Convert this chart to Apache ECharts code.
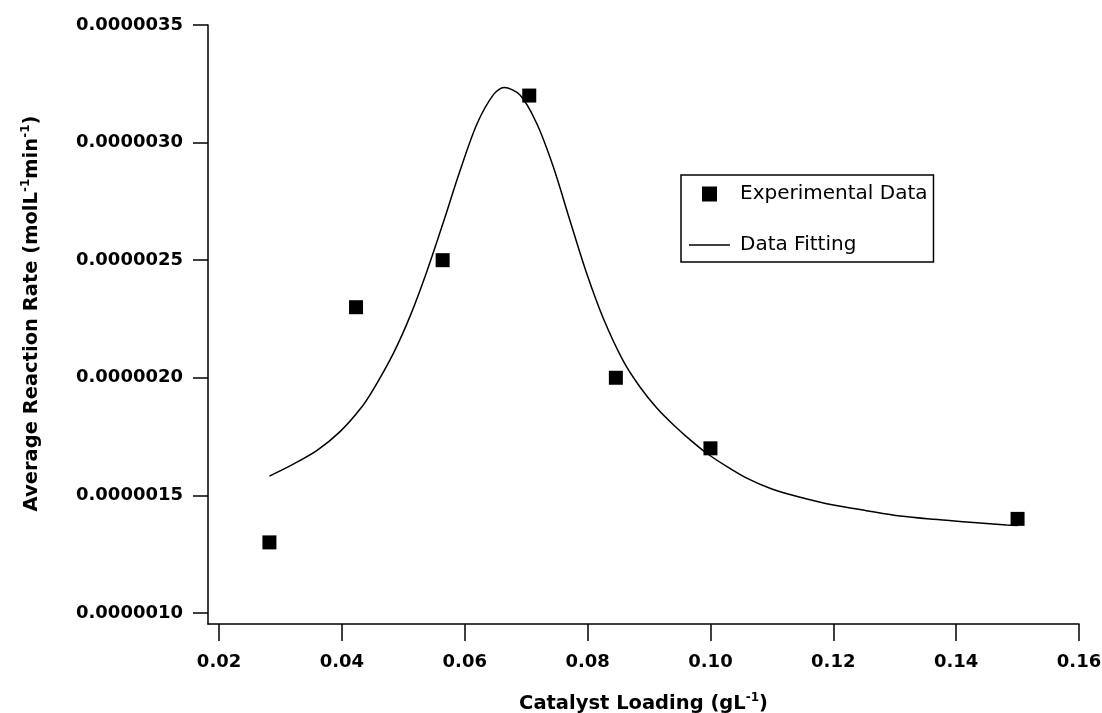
<!DOCTYPE html>
<html>
<head>
<meta charset="utf-8">
<script src="https://cdn.jsdelivr.net/npm/echarts@6/dist/echarts.min.js"></script>
<style>
html,body{margin:0;padding:0;background:#fff;}
#chartContainer{width:1102px;height:713px;}
</style>
</head>
<body>
<div id="chartContainer"></div>
<script>
// measured points (catalyst loading g/L, rate mol/L/min)
var expLoading=[0.0282,0.0423,0.0564,0.0705,0.0846,0.1,0.15];
var expRate=[1.3e-6,2.3e-6,2.5e-6,3.2e-6,2.0e-6,1.7e-6,1.4e-6];

// fitted curve
var fitLoading=[0.0282,0.0321,0.0359,0.0397,0.0430,0.0451,0.0484,0.0511,0.0538,0.0565,
	0.0592,0.0620,0.0647,0.0664,0.0690,0.0717,0.0744,0.0771,0.0799,0.0826,
	0.0858,0.0885,0.0913,0.0940,0.0967,0.0994,0.1027,0.1059,0.1100,0.1146,
	0.1200,0.1254,0.1309,0.1363,0.1417,0.1482,0.1500];
var fitRate=[1.582e-6,1.633e-6,1.690e-6,1.771e-6,1.868e-6,1.950e-6,2.105e-6,2.262e-6,2.450e-6,2.660e-6,
	2.878e-6,3.080e-6,3.205e-6,3.234e-6,3.202e-6,3.082e-6,2.898e-6,2.671e-6,2.440e-6,2.250e-6,
	2.072e-6,1.962e-6,1.870e-6,1.799e-6,1.736e-6,1.679e-6,1.622e-6,1.573e-6,1.527e-6,1.492e-6,
	1.459e-6,1.435e-6,1.412e-6,1.398e-6,1.387e-6,1.374e-6,1.372e-6];

// tick labels
var xTicks=[0.02,0.04,0.06,0.08,0.10,0.12,0.14,0.16];
var yTicks=[1.0e-6,1.5e-6,2.0e-6,2.5e-6,3.0e-6,3.5e-6];

function zip(a,b){
	var out=[];
	for(var i=0;i<a.length;i++){out.push([a[i],b[i]]);}
	return out;
}

var dom=document.getElementById("chartContainer");
var myChart=echarts.init(dom,null,{renderer:'canvas'});
var tickFont={fontFamily:'DejaVu Sans',fontWeight:'bold',fontSize:18,color:'#000'};
var titleRich={
	t:{fontFamily:'DejaVu Sans',fontWeight:'bold',fontSize:19.5,color:'#000',lineHeight:24},
	sup:{fontFamily:'DejaVu Sans',fontWeight:'bold',fontSize:12,color:'#000',verticalAlign:'top',lineHeight:24,padding:[0,0,10,0]}
};

var option={
	animation:false,
	backgroundColor:'#fff',
	grid:{left:208,right:23,top:25,bottom:89,containLabel:false,outerBoundsMode:'none'},
	legend:{
		orient:'vertical',
		left:681,top:175,
		padding:[9,6,7,8],
		borderColor:'#000',borderWidth:1.5,
		itemWidth:41,itemHeight:15,itemGap:31,
		symbolKeepAspect:true,
		textStyle:{fontFamily:'DejaVu Sans',fontSize:20,color:'#000',padding:[0,0,0,5]},
		data:[
			{name:'Experimental Data',icon:'path://M0,0H10V10H0Z'},
			{name:'Data Fitting',icon:'path://M0,0H41V1.5H0Z'}
		]
	},
	xAxis:{
		type:'value',
		min:0.0182,max:0.16,
		name:'{t|Catalyst Loading (gL}{sup|-1}{t|)}',
		nameLocation:'middle',nameGap:68,
		nameTextStyle:{rich:titleRich},
		axisLine:{lineStyle:{color:'#000',width:1.5}},
		axisTick:{show:true,inside:false,length:17,lineStyle:{color:'#000',width:1.5},customValues:xTicks},
		axisLabel:Object.assign({margin:29,customValues:xTicks,formatter:function(v){return v.toFixed(2);}},tickFont),
		splitLine:{show:false}
	},
	yAxis:{
		type:'value',
		min:0.953e-6,max:3.5e-6,
		name:'{t|Average Reaction Rate (molL}{sup|-1}{t|min}{sup|-1}{t|)}',
		nameLocation:'middle',nameRotate:90,nameGap:164,
		nameTextStyle:{rich:titleRich,padding:[0,0,0,22]},
		axisLine:{show:true,lineStyle:{color:'#000',width:1.5}},
		axisTick:{show:true,inside:false,length:15,lineStyle:{color:'#000',width:1.5},customValues:yTicks},
		axisLabel:Object.assign({margin:25,customValues:yTicks,formatter:function(v){return v.toFixed(7);}},tickFont),
		splitLine:{show:false}
	},
	series:[
		{
			name:'Data Fitting',
			type:'line',
			smooth:0.3,
			symbol:'none',
			lineStyle:{color:'#000',width:1.5},
			itemStyle:{color:'#000'},
			data:zip(fitLoading,fitRate)
		},
		{
			name:'Experimental Data',
			type:'scatter',
			symbol:'rect',
			symbolSize:14,
			itemStyle:{color:'#000',opacity:1},
			data:zip(expLoading,expRate)
		}
	]
};
myChart.setOption(option,true);
</script>
</body>
</html>
